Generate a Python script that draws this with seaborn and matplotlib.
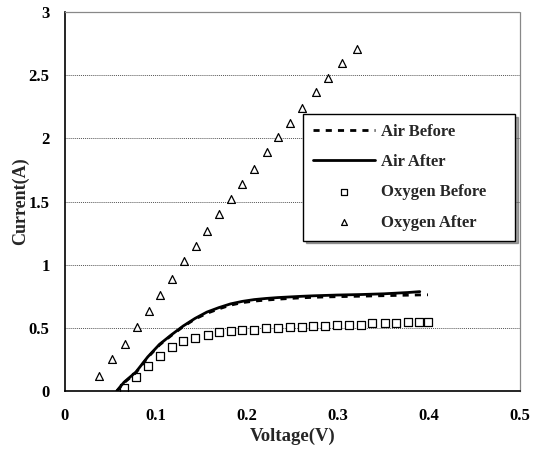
import matplotlib
matplotlib.use("Agg")
import matplotlib.pyplot as plt
import seaborn as sns

# ---- data ----
air_v = [0.057, 0.065, 0.078, 0.091, 0.104, 0.117, 0.130, 0.143, 0.156, 0.169,
         0.182, 0.195, 0.208, 0.221, 0.234, 0.247, 0.260, 0.273, 0.286, 0.299,
         0.312, 0.325, 0.338, 0.351, 0.364, 0.377, 0.390]
air_before_v = air_v + [0.399]
air_before_i = [0.0, 0.065, 0.145, 0.265, 0.365, 0.44, 0.51, 0.57, 0.615, 0.65,
                0.68, 0.70, 0.712, 0.72, 0.727, 0.733, 0.738, 0.742, 0.745, 0.747,
                0.749, 0.751, 0.753, 0.755, 0.757, 0.759, 0.761, 0.762]
air_after_i = [0.0, 0.07, 0.15, 0.27, 0.37, 0.445, 0.515, 0.575, 0.625, 0.66,
               0.69, 0.71, 0.724, 0.733, 0.74, 0.745, 0.75, 0.754, 0.757, 0.76,
               0.762, 0.764, 0.767, 0.77, 0.775, 0.78, 0.787]

oxy_before_v = [0.065, 0.078, 0.091, 0.104, 0.118, 0.130, 0.143, 0.157, 0.169, 0.182,
                0.195, 0.208, 0.221, 0.234, 0.247, 0.260, 0.273, 0.286, 0.299, 0.312,
                0.325, 0.338, 0.352, 0.364, 0.377, 0.389, 0.399]
oxy_before_i = [0.02, 0.11, 0.20, 0.275, 0.35, 0.40, 0.42, 0.445, 0.466, 0.474,
                0.48, 0.487, 0.497, 0.50, 0.505, 0.505, 0.513, 0.518, 0.526, 0.526,
                0.526, 0.537, 0.537, 0.537, 0.545, 0.545, 0.545]

oxy_after_v = [0.038, 0.052, 0.066, 0.079, 0.092, 0.104, 0.118, 0.131, 0.144, 0.156,
               0.169, 0.182, 0.195, 0.208, 0.222, 0.234, 0.247, 0.261, 0.276, 0.289,
               0.304, 0.321]
oxy_after_i = [0.12, 0.25, 0.37, 0.505, 0.63, 0.76, 0.89, 1.03, 1.15, 1.27,
               1.40, 1.52, 1.64, 1.76, 1.89, 2.01, 2.12, 2.24, 2.37, 2.48,
               2.60, 2.71]

x_ticks = [0, 0.1, 0.2, 0.3, 0.4, 0.5]
x_tick_labels = ["0", "0.1", "0.2", "0.3", "0.4", "0.5"]
y_ticks = [0, 0.5, 1, 1.5, 2, 2.5, 3]
y_tick_labels = ["0", "0.5", "1", "1.5", "2", "2.5", "3"]

sns.set_style("white")
plt.rcParams["font.family"] = ["Liberation Serif", "DejaVu Serif"]
plt.rcParams["font.weight"] = "bold"

fig = plt.figure(figsize=(5.41, 4.51), dpi=100)
ax = fig.add_axes([0.120, 0.133, 0.841, 0.840])

sns.lineplot(x=air_before_v, y=air_before_i, ax=ax, color="black", lw=2.0,
             linestyle=(0, (2.2, 2.2)), label="Air Before", sort=False)
sns.lineplot(x=air_v, y=air_after_i, ax=ax, color="black", lw=2.0,
             label="Air After", sort=False)
sns.scatterplot(x=oxy_before_v, y=oxy_before_i, ax=ax, marker="s", s=34,
                facecolor="white", edgecolor="black", linewidth=0.9,
                label="Oxygen Before")
sns.scatterplot(x=oxy_after_v, y=oxy_after_i, ax=ax, marker="^", s=32,
                facecolor="white", edgecolor="black", linewidth=0.9,
                label="Oxygen After")

ax.set_xlim(0, 0.5)
ax.set_ylim(0, 3)
ax.set_xticks(x_ticks)
ax.set_xticklabels(x_tick_labels)
ax.set_yticks(y_ticks)
ax.set_yticklabels(y_tick_labels)
ax.tick_params(axis="x", direction="in", length=4, width=0.8, labelsize=12,
               pad=12, colors="black")
ax.tick_params(axis="y", direction="in", length=3, width=0.8, labelsize=12,
               pad=11, colors="black")
for lab in ax.get_xticklabels() + ax.get_yticklabels():
    lab.set_fontweight("bold")

ax.yaxis.grid(True, linestyle=(0, (1, 1)), color="#555555", lw=0.7)
ax.xaxis.grid(False)

for side in ["left", "bottom"]:
    ax.spines[side].set_color("black")
    ax.spines[side].set_linewidth(1.2)
for side in ["top", "right"]:
    ax.spines[side].set_color("#888888")
    ax.spines[side].set_linewidth(0.9)
    ax.spines[side].set_linestyle((0, (3, 1)))

ax.set_xlabel("Voltage(V)", fontsize=13.5, fontweight="bold", labelpad=3)
ax.set_ylabel("Current(A)", fontsize=13, fontweight="bold", labelpad=0)

leg = ax.legend(loc="upper left", bbox_to_anchor=(0.523, 0.396, 0.466, 0.335),
                mode="expand", frameon=True, shadow=True, fancybox=False,
                fontsize=12, handlelength=3.7, handletextpad=0.4,
                labelspacing=0.85, borderpad=0.6, borderaxespad=0,
                markerscale=0.75)
leg.get_frame().set_edgecolor("black")
leg.get_frame().set_linewidth(1.0)
for t in leg.get_texts():
    t.set_fontweight("bold")

fig.savefig("out.png", dpi=100)
